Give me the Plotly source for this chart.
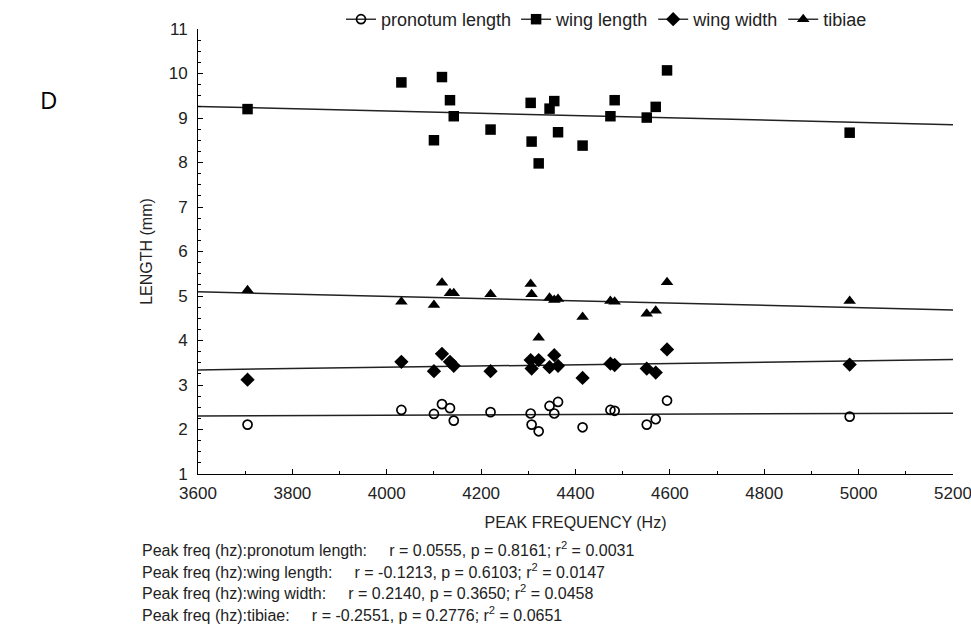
import numpy as np
import plotly.graph_objects as go

# Peak frequency of each specimen (Hz)
peak_freq = [3705, 4031, 4100, 4117, 4134, 4142, 4220, 4305, 4307, 4322,
             4345, 4355, 4363, 4415, 4474, 4483, 4551, 4570, 4594, 4981]

# Body measurements (mm) for the same specimens
pronotum_length = [2.11, 2.44, 2.35, 2.57, 2.48, 2.20, 2.39, 2.36, 2.11, 1.96,
                   2.53, 2.36, 2.62, 2.05, 2.44, 2.42, 2.11, 2.23, 2.65, 2.29]
wing_length = [9.20, 9.80, 8.50, 9.92, 9.40, 9.04, 8.74, 9.34, 8.47, 7.98,
               9.21, 9.38, 8.68, 8.38, 9.04, 9.40, 9.01, 9.25, 10.07, 8.67]
wing_width = [3.12, 3.52, 3.31, 3.70, 3.52, 3.43, 3.31, 3.56, 3.37, 3.56,
              3.40, 3.67, 3.43, 3.16, 3.48, 3.45, 3.37, 3.28, 3.80, 3.46]
tibiae = [5.13, 4.87, 4.80, 5.30, 5.06, 5.06, 5.04, 5.27, 5.04, 4.06,
          4.96, 4.91, 4.93, 4.53, 4.89, 4.87, 4.60, 4.67, 5.31, 4.89]

series_names = ["pronotum length", "wing length", "wing width", "tibiae"]
GAP = "\u00a0" * 4 + " "
stats_lines = [
    "Peak freq (hz):pronotum length:" + GAP + "r = 0.0555, p = 0.8161; r<sup>2</sup> = 0.0031",
    "Peak freq (hz):wing length:" + GAP + "r = -0.1213, p = 0.6103; r<sup>2</sup> = 0.0147",
    "Peak freq (hz):wing width:" + GAP + "r = 0.2140, p = 0.3650; r<sup>2</sup> = 0.0458",
    "Peak freq (hz):tibiae:" + GAP + "r = -0.2551, p = 0.2776; r<sup>2</sup> = 0.0651",
]

x_range = [3600, 5200]
y_range = [1, 11]

W, H = 971, 635
L, R, T, B = 198, 18, 29, 161
pw, ph = W - L - R, H - T - B


def px_to_paper(px, py):
    """Convert a pixel position on the page to paper coordinates."""
    return (px - L) / pw, (H - B - py) / ph


FONT = "Liberation Sans, Arial, sans-serif"
TXT = "#222222"

styles = [
    dict(symbol="circle-open", size=9, color="black", line=dict(width=1.7, color="black")),
    dict(symbol="square", size=10.5, color="black"),
    dict(symbol="diamond", size=11, color="black"),
    dict(symbol="triangle-up", size=11, color="black"),
]
values = [pronotum_length, wing_length, wing_width, tibiae]

fig = go.Figure()
xs = np.array(peak_freq, dtype=float)
line_x = np.array(x_range, dtype=float)

for name, vals, st in zip(series_names, values, styles):
    ys = np.array(vals, dtype=float)
    slope, intercept = np.polyfit(xs, ys, 1)
    # least-squares regression line across the full axis range
    fig.add_trace(go.Scatter(x=line_x, y=slope * line_x + intercept, mode="lines",
                             line=dict(color="#222222", width=1.5),
                             showlegend=False, hoverinfo="skip"))
    fig.add_trace(go.Scatter(x=peak_freq, y=vals, mode="markers", marker=st,
                             name=name, showlegend=False))
    # legend key: line with marker
    fig.add_trace(go.Scatter(x=[None], y=[None], mode="lines+markers",
                             marker=st, line=dict(color="black", width=1.2),
                             name=name, showlegend=True))

axis_common = dict(showline=True, linecolor="black", linewidth=1, showgrid=False,
                   zeroline=False, ticks="inside", ticklen=5, tickcolor="black",
                   tickfont=dict(family=FONT, size=17, color=TXT),
                   mirror=False, automargin=False, ticklabeloverflow="allow")

fig.update_xaxes(range=x_range, dtick=200, tick0=3600,
                 minor=dict(dtick=100, ticks="inside", ticklen=3, tickcolor="black"),
                 ticklabelstandoff=4,
                 title=dict(text="PEAK FREQUENCY (Hz)", standoff=14,
                            font=dict(family=FONT, size=16, color=TXT)),
                 **axis_common)
fig.update_yaxes(range=y_range, dtick=1, tick0=1,
                 minor=dict(dtick=0.25, ticks="inside", ticklen=3, tickcolor="black"),
                 ticklabelstandoff=6,
                 title=dict(text="LENGTH (mm)", standoff=12,
                            font=dict(family=FONT, size=16, color=TXT)),
                 **axis_common)

dx, dy = px_to_paper(48, 99)
annotations = [dict(text="D", x=dx, y=dy, xref="paper", yref="paper",
                    showarrow=False, xanchor="center", yanchor="middle",
                    font=dict(family="Open Sans, Noto Sans, sans-serif", size=24, color="black"))]

# statistics block under the x-axis title
for i, line in enumerate(stats_lines):
    ax, ay = px_to_paper(140, 549 + 21.5 * i)
    annotations.append(dict(text=line, xref="paper", yref="paper", x=ax, y=ay,
                            xanchor="left", yanchor="middle", showarrow=False,
                            font=dict(family=FONT, size=16, color=TXT)))

lx, ly = px_to_paper(341, 1)
fig.update_layout(
    width=W, height=H,
    margin=dict(l=L, r=R, t=T, b=B, autoexpand=False),
    paper_bgcolor="white", plot_bgcolor="white",
    font=dict(family=FONT, color=TXT),
    legend=dict(orientation="h", x=lx, y=ly, xanchor="left", yanchor="top",
                bgcolor="rgba(0,0,0,0)",
                font=dict(family=FONT, size=18, color=TXT),
                itemwidth=30, tracegroupgap=0),
    annotations=annotations,
    showlegend=True,
)

fig.write_html("out.html")
